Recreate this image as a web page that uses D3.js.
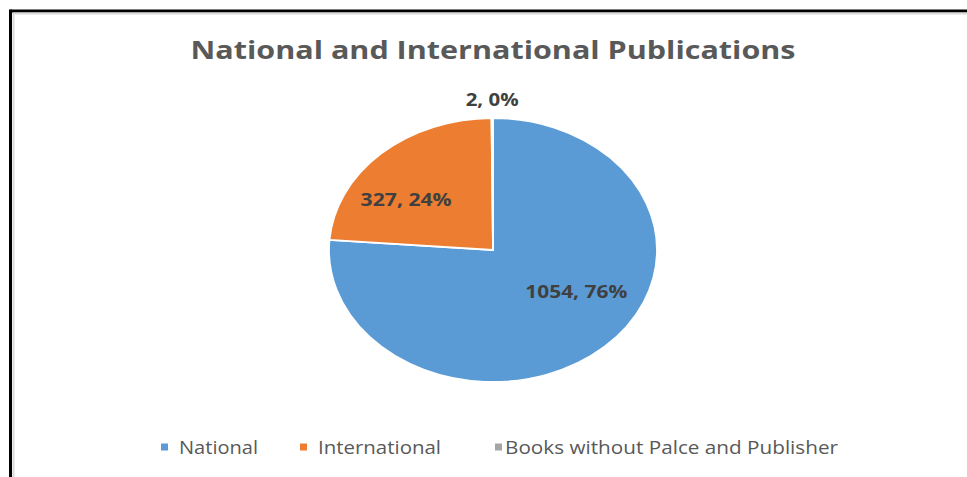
<!DOCTYPE html>
<html>
<head>
<meta charset="utf-8">
<script src="https://cdn.jsdelivr.net/npm/d3@7"></script>
<style>
  html, body { margin: 0; padding: 0; background: #fff; }
  svg { display: block; font-family: "Open Sans", "DejaVu Sans", sans-serif; }
</style>
</head>
<body>
<svg id="svg" width="967" height="477"></svg>
<script>
var categories = ["National", "International", "Books without Palce and Publisher"];
var counts = [1054, 327, 2];
var percents = ["76%", "24%", "0%"];
var colors = ["#5B9BD5", "#ED7D31", "#A5A5A5"];

var svg = d3.select("#svg");
var W = 967, H = 477;

// frame (only top/left edges are visible in the picture)
svg.append("line").attr("x1", 10.5).attr("y1", 11).attr("x2", W).attr("y2", 11)
  .attr("stroke", "#000").attr("stroke-width", 3);
svg.append("line").attr("x1", 13.5).attr("y1", 13.5).attr("x2", W).attr("y2", 13.5)
  .attr("stroke", "#d9d9d9").attr("stroke-width", 2);
svg.append("line").attr("x1", 10.5).attr("y1", 9.5).attr("x2", 10.5).attr("y2", H)
  .attr("stroke", "#000").attr("stroke-width", 3);
svg.append("line").attr("x1", 13.5).attr("y1", 13).attr("x2", 13.5).attr("y2", H)
  .attr("stroke", "#d9d9d9").attr("stroke-width", 2);

// title
svg.append("text")
  .attr("x", 493).attr("y", 59)
  .attr("text-anchor", "middle")
  .attr("font-size", 25.5).attr("font-weight", "bold")
  .attr("fill", "#595959")
  .attr("textLength", 605).attr("lengthAdjust", "spacingAndGlyphs")
  .text("National and International Publications");

// pie (the picture is stretched sideways, so the pie is an ellipse)
var cx = 493, cy = 250, ry = 132, rx = 164;
var sx = rx / ry;

var data = categories.map(function (c, i) { return { name: c, value: counts[i], pct: percents[i], color: colors[i] }; });

var pie = d3.pie().sort(null).value(function (d) { return d.value; });
var arcs = pie(data);
var arc = d3.arc().innerRadius(0).outerRadius(ry);

var pieGrp = svg.append("g")
  .attr("transform", "translate(" + cx + "," + cy + ") scale(" + sx + ",1)");

pieGrp.selectAll("path").data(arcs).enter()
  .append("path")
  .attr("d", arc)
  .attr("fill", function (d) { return d.data.color; })
  .attr("stroke", "#fff")
  .attr("stroke-width", 1.8)
  .attr("vector-effect", "non-scaling-stroke");

// data labels (best-fit style nudges: angle shift in degrees, radius ratio)
var labelNudge = [{ da: -15, r: 0.60 }, { da: -11.5, r: 0.65 }, { da: 0, r: 1.14 }];
var labelWidth = [102, 91, 53];

svg.append("g").selectAll("text").data(arcs).enter()
  .append("text")
  .attr("x", function (d, i) {
    var a = (d.startAngle + d.endAngle) / 2 + labelNudge[i].da * Math.PI / 180;
    return cx + Math.sin(a) * ry * labelNudge[i].r * sx;
  })
  .attr("y", function (d, i) {
    var a = (d.startAngle + d.endAngle) / 2 + labelNudge[i].da * Math.PI / 180;
    return cy - Math.cos(a) * ry * labelNudge[i].r + 6;
  })
  .attr("text-anchor", "middle")
  .attr("font-size", 17.5).attr("font-weight", "bold")
  .attr("fill", "#404040")
  .attr("textLength", function (d, i) { return labelWidth[i]; })
  .attr("lengthAdjust", "spacingAndGlyphs")
  .text(function (d) { return d.data.value + ", " + d.data.pct; });

// legend
var legendX = [161, 300, 495];
var legendTextW = [79, 123, 333];
var legend = svg.append("g").attr("transform", "translate(0,447)");
var items = legend.selectAll("g").data(data).enter()
  .append("g")
  .attr("transform", function (d, i) { return "translate(" + legendX[i] + ",0)"; });
items.append("rect")
  .attr("x", 0).attr("y", -3.5).attr("width", 7).attr("height", 7)
  .attr("fill", function (d) { return d.color; });
items.append("text")
  .attr("x", function (d, i) { return i == 2 ? 10 : 18; })
  .attr("y", 7)
  .attr("font-size", 19)
  .attr("fill", "#595959")
  .attr("textLength", function (d, i) { return legendTextW[i]; })
  .attr("lengthAdjust", "spacingAndGlyphs")
  .text(function (d) { return d.name; });
</script>
</body>
</html>
